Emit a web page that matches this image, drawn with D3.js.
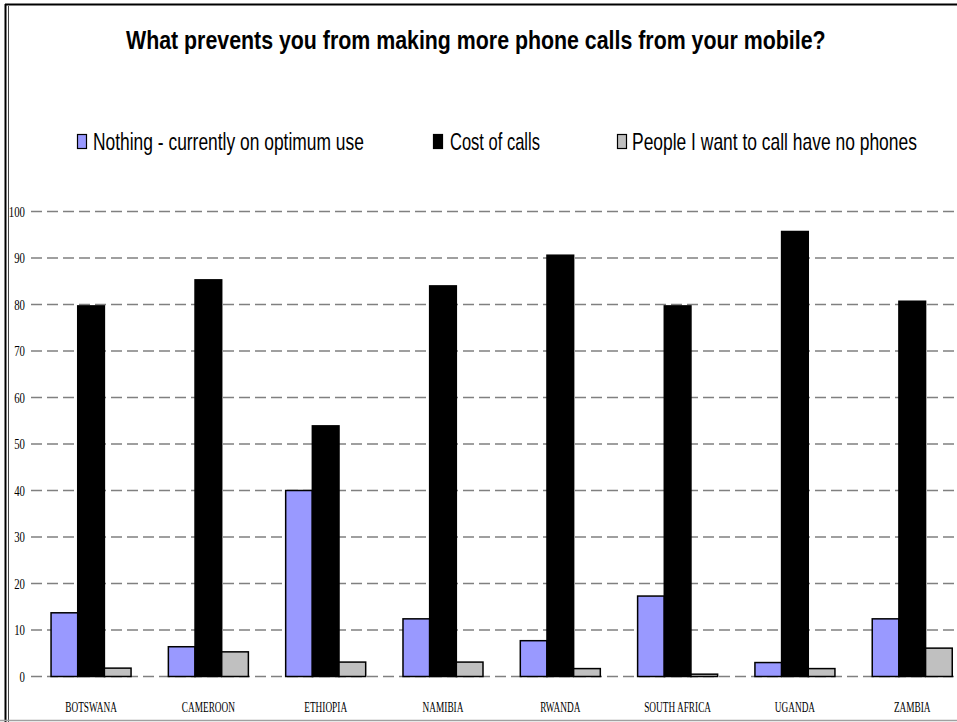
<!DOCTYPE html>
<html>
<head>
<meta charset="utf-8">
<script src="https://cdn.jsdelivr.net/npm/d3@7"></script>
<style>
  html, body { margin: 0; padding: 0; background: #fff; }
  svg { display: block; }
</style>
</head>
<body>
<svg id="chart" width="957" height="722"></svg>
<script>
const title = "What prevents you from making more phone calls from your mobile?";
const countries = ["BOTSWANA", "CAMEROON", "ETHIOPIA", "NAMIBIA", "RWANDA", "SOUTH AFRICA", "UGANDA", "ZAMBIA"];
const seriesNames = ["Nothing - currently on optimum use", "Cost of calls", "People I want to call have no phones"];
const nothing  = [13.7, 6.4, 40.0, 12.4, 7.7, 17.3, 3.0, 12.4];
const cost     = [79.7, 85.3, 53.9, 84.0, 90.6, 79.7, 95.7, 80.7];
const noPhones = [1.8, 5.3, 3.1, 3.1, 1.7, 0.5, 1.7, 6.1];
const yTicks = [0, 10, 20, 30, 40, 50, 60, 70, 80, 90, 100];
const colors = ["#9999FF", "#000000", "#C0C0C0"];

const seriesValues = [nothing, cost, noPhones];
const svg = d3.select("#chart");

// place a text at (x,y) squeezed horizontally by factor sx (or to width w)
function squeeze(node, x, y, opts) {
  const w = node.getComputedTextLength();
  const sx = opts.width ? opts.width / w : opts.factor;
  d3.select(node).attr("x", 0).attr("y", 0)
    .attr("transform", `translate(${x},${y}) scale(${sx},1)`);
}

// Frame
svg.append("line").attr("x1", 5).attr("x2", 957).attr("y1", 4.5).attr("y2", 4.5)
  .attr("stroke", "#000").attr("stroke-width", 2);
svg.append("line").attr("x1", 5.5).attr("x2", 5.5).attr("y1", 4).attr("y2", 722)
  .attr("stroke", "#000").attr("stroke-width", 2);
svg.append("line").attr("x1", 8.5).attr("x2", 8.5).attr("y1", 6).attr("y2", 722)
  .attr("stroke", "#444").attr("stroke-width", 1);
svg.append("line").attr("x1", 0).attr("x2", 957).attr("y1", 720.5).attr("y2", 720.5)
  .attr("stroke", "#a0a0a0").attr("stroke-width", 1.5);

// Title
const t = svg.append("text")
  .attr("font-family", "'Liberation Sans', Arial, sans-serif")
  .attr("font-weight", "bold").attr("font-size", 25)
  .attr("fill", "#000")
  .text(title);
squeeze(t.node(), 126, 49, { width: 700 });

// Legend
const legendItems = [
  { sx: 77, tx: 93, tw: 271 },
  { sx: 433, tx: 450, tw: 90 },
  { sx: 617, tx: 632, tw: 285 }
];
const legend = svg.append("g");
seriesNames.forEach((name, i) => {
  const it = legendItems[i];
  legend.append("rect").attr("x", it.sx + 0.5).attr("y", 134.5).attr("width", 9).attr("height", 14)
    .attr("fill", colors[i]).attr("stroke", "#000").attr("stroke-width", 1.2);
  const lt = legend.append("text")
    .attr("font-family", "'Liberation Sans', Arial, sans-serif")
    .attr("font-size", 24)
    .attr("fill", "#000")
    .text(name);
  squeeze(lt.node(), it.tx, 149.5, { width: it.tw });
});

// Scales
const x0 = d3.scaleBand().domain(countries).range([32.4, 970.9])
  .paddingInner(0.318).paddingOuter(0.159);
const x1 = d3.scaleBand().domain(d3.range(3)).range([0, x0.bandwidth()]).padding(0);
const y = d3.scaleLinear().domain([0, 100]).range([676.5, 211.5]);

// Gridlines
svg.append("g").selectAll("line").data(yTicks).join("line")
  .attr("x1", 31).attr("x2", 975)
  .attr("y1", d => y(d)).attr("y2", d => y(d))
  .attr("stroke", "#808080").attr("stroke-width", 1.6)
  .attr("stroke-dasharray", "11,5");

// Y tick labels
svg.append("g").selectAll("text").data(yTicks).join("text")
  .attr("dy", "0.35em")
  .attr("text-anchor", "end")
  .attr("font-family", "'Liberation Serif', 'Times New Roman', serif")
  .attr("font-size", 15)
  .attr("fill", "#000")
  .text(d => d)
  .each(function (d) { squeeze(this, 25, y(d), { width: String(d).length * 5.4 }); });

// Bars
const groups = svg.append("g").selectAll("g").data(countries).join("g")
  .attr("transform", d => `translate(${x0(d)},0)`);
groups.selectAll("rect")
  .data((d, ci) => seriesValues.map((vals, si) => ({ si, v: vals[ci] })))
  .join("rect")
  .attr("x", d => x1(d.si))
  .attr("y", d => y(d.v))
  .attr("width", x1.bandwidth())
  .attr("height", d => y(0) - y(d.v))
  .attr("fill", d => colors[d.si])
  .attr("stroke", "#000")
  .attr("stroke-width", 1.5);

// X labels
svg.append("g").selectAll("text").data(countries).join("text")
  .attr("text-anchor", "middle")
  .attr("font-family", "'Liberation Serif', 'Times New Roman', serif")
  .attr("font-size", 15)
  .attr("fill", "#000")
  .text(d => d)
  .each(function (d) { squeeze(this, x0(d) + x0.bandwidth() / 2, 712, { factor: 0.62 }); });
</script>
</body>
</html>
